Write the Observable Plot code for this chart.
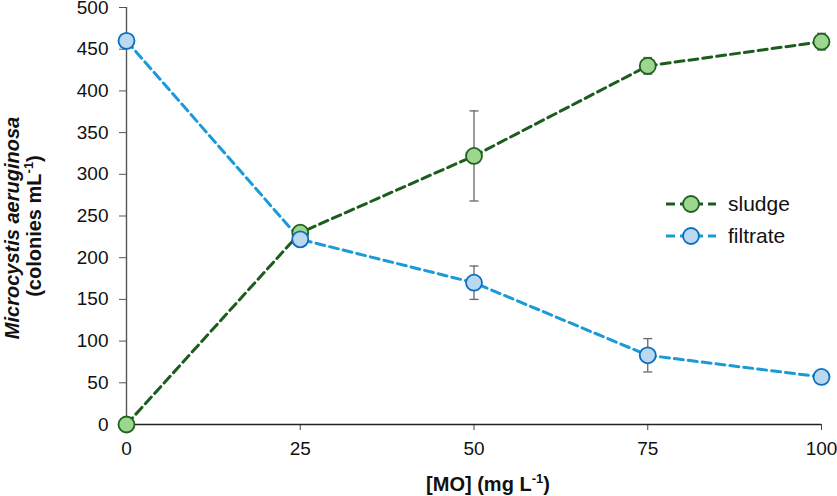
<!DOCTYPE html>
<html><head><meta charset="utf-8">
<script src="https://cdn.jsdelivr.net/npm/d3@7"></script>
<script src="https://cdn.jsdelivr.net/npm/@observablehq/plot@0.6"></script>
<style>
body{margin:0;background:#fff}
#chart{position:relative;width:837px;height:496px}
</style>
</head><body><div id="chart"></div>
<script>
const doses = [0, 25, 50, 75, 100];
const sludge = [0, 230, 322, 430, 459];
const sludgeErr = [0, 5, 54, 10, 10];
const filtrate = [460, 222, 170, 83, 57];
const filtrateErr = [0, 0, 20, 20, 0];
const seriesNames = ["sludge", "filtrate"];
const xTicks = [0, 25, 50, 75, 100];
const yTicks = [0, 50, 100, 150, 200, 250, 300, 350, 400, 450, 500];

const lineColor = {sludge: "#1c5c1c", filtrate: "#1b9ad8"};
const dotFill = {sludge: "#9dd68e", filtrate: "#bad8f0"};
const dotStroke = {sludge: "#1f621f", filtrate: "#0a6fc3"};

const rows = [];
doses.forEach((x, i) => {
  rows.push({series: "sludge", x, y: sludge[i], err: sludgeErr[i]});
  rows.push({series: "filtrate", x, y: filtrate[i], err: filtrateErr[i]});
});
const errRows = rows.filter(d => d.err > 0);
const capSymbol = {draw(ctx) { ctx.moveTo(-4.5, 0); ctx.lineTo(4.5, 0); }};

const font = "Liberation Sans, Arial, sans-serif";
const svg = Plot.plot({
  width: 837, height: 496,
  marginLeft: 126, marginRight: 16, marginTop: 7, marginBottom: 72,
  style: {fontFamily: font, fontSize: "19px", color: "#111", background: "#fff", overflow: "visible"},
  x: {domain: [0, 100]},
  y: {domain: [0, 500]},
  marks: [
    Plot.axisX({ticks: xTicks, tickSize: 6, tickPadding: 11, label: null, stroke: "#444", fontSize: 19}),
    Plot.axisY({ticks: yTicks, tickSize: 7, tickPadding: 11, label: null, stroke: "#555", fontSize: 19}),
    Plot.ruleY([0], {stroke: "#222", strokeWidth: 1.4}),
    Plot.ruleX([0], {stroke: "#555", strokeWidth: 1.4}),
    ...seriesNames.map(s => Plot.line(rows.filter(d => d.series === s), {
      x: "x", y: "y", stroke: lineColor[s], strokeWidth: 3, strokeDasharray: "9,5"
    })),
    Plot.ruleX(errRows, {x: "x", y1: d => d.y - d.err, y2: d => d.y + d.err, stroke: "#666", strokeWidth: 1.3}),
    Plot.dot(errRows, {x: "x", y: d => d.y - d.err, symbol: capSymbol, stroke: "#666", strokeWidth: 1.3}),
    Plot.dot(errRows, {x: "x", y: d => d.y + d.err, symbol: capSymbol, stroke: "#666", strokeWidth: 1.3}),
    ...seriesNames.map(s => Plot.dot(rows.filter(d => d.series === s), {
      x: "x", y: "y", r: 8, fill: dotFill[s], stroke: dotStroke[s], strokeWidth: 1.8
    }))
  ]
});
document.getElementById("chart").appendChild(svg);
d3.select(svg).selectAll('g[aria-label$="tick label"]').attr("font-size", 19).style("font-size", "19px");
d3.select(svg).selectAll('g[aria-label$="tick label"] text').attr("font-size", 19).style("font-size", "19px").attr("fill", "#111");

const g = d3.select(svg).append("g").attr("font-family", font).attr("fill", "#111");
// y title
g.append("text").attr("transform", "translate(19,228) rotate(-90)")
  .attr("text-anchor", "middle").attr("font-size", 20).attr("font-weight", "bold").attr("font-style", "italic")
  .text("Microcystis aeruginosa");
const t2 = g.append("text").attr("transform", "translate(41,226) rotate(-90)")
  .attr("text-anchor", "middle").attr("font-size", 20).attr("font-weight", "bold");
t2.append("tspan").text("(colonies mL");
t2.append("tspan").attr("font-size", 13).attr("dy", -8).text("-1");
t2.append("tspan").attr("dy", 8).text(")");
// x title
const t3 = g.append("text").attr("x", 488).attr("y", 491)
  .attr("text-anchor", "middle").attr("font-size", 20).attr("font-weight", "bold");
t3.append("tspan").text("[MO] (mg L");
t3.append("tspan").attr("font-size", 13).attr("dy", -8).text("-1");
t3.append("tspan").attr("dy", 8).text(")");

// legend
const leg = g.append("g");
seriesNames.forEach((s, i) => {
  const y = 204 + i * 32;
  leg.append("line").attr("x1", 665).attr("x2", 716).attr("y1", y).attr("y2", y)
    .attr("stroke", lineColor[s]).attr("stroke-width", 3).attr("stroke-dasharray", "9,5").attr("stroke-dashoffset", -1);
  leg.append("circle").attr("cx", 691).attr("cy", y).attr("r", 8)
    .attr("fill", dotFill[s]).attr("stroke", dotStroke[s]).attr("stroke-width", 1.8);
  leg.append("text").attr("x", 728).attr("y", y + 7).attr("font-size", 21).attr("text-anchor", "start").text(s);
});
</script>
</body></html>
